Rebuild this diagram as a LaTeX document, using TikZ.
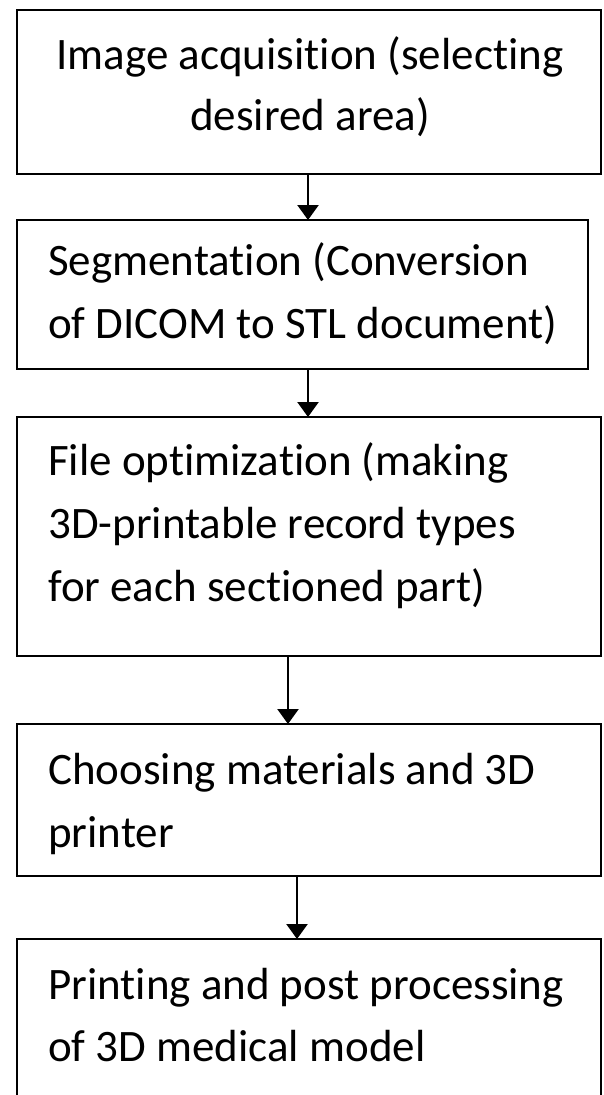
\documentclass[tikz,border=0pt]{standalone}
\usepackage{fontspec}
\setmainfont[Ligatures=NoCommon]{Carlito}
\usetikzlibrary{arrows.meta}
\begin{document}
\begin{tikzpicture}[x=1pt,y=-1pt,
  stepbox/.style={draw=black, line width=2.5pt, rectangle, inner sep=0pt, outer sep=0pt, anchor=north west},
  stepline/.style={inner sep=0pt, font=\fontsize{45}{45}\selectfont},
  flow/.style={line width=2.4pt, -{Triangle[width=21pt,length=15pt]}}]
\useasboundingbox (0,0) rectangle (603,1095);
% process boxes
\node[stepbox, minimum width=584pt, minimum height=164pt] (s1) at (17,10) {};
\node[stepbox, minimum width=571pt, minimum height=149pt] (s2) at (17,220) {};
\node[stepbox, minimum width=584pt, minimum height=239pt] (s3) at (17,417) {};
\node[stepbox, minimum width=584pt, minimum height=152pt] (s4) at (17,724) {};
\node[stepbox, minimum width=584pt, minimum height=200pt] (s5) at (17,939) {};
% box texts
\node[stepline, anchor=base] (t1a) at (310,69) {Image acquisition (selecting};
\node[stepline, anchor=base] (t1b) at (310,130) {desired area)};
\node[stepline, anchor=base west] (t2a) at (48,275) {Segmentation (Conversion};
\node[stepline, anchor=base west] (t2b) at (48,338) {of DICOM to STL document)};
\node[stepline, anchor=base west] (t3a) at (48,475) {File optimization (making};
\node[stepline, anchor=base west] (t3b) at (48,538) {3D-printable record types};
\node[stepline, anchor=base west] (t3c) at (48,601) {for each sectioned part)};
\node[stepline, anchor=base west] (t4a) at (48,784) {Choosing materials and 3D};
\node[stepline, anchor=base west] (t4b) at (48,847) {printer};
\node[stepline, anchor=base west] (t5a) at (48,999) {Printing and post processing};
\node[stepline, anchor=base west] (t5b) at (48,1061) {of 3D medical model};
% connector columns
\coordinate (c1) at (308,0);
\coordinate (c2) at (308,0);
\coordinate (c3) at (288,0);
\coordinate (c4) at (297,0);
\draw[flow] (s1.south -| c1) -- (s2.north -| c1);
\draw[flow] (s2.south -| c2) -- (s3.north -| c2);
\draw[flow] (s3.south -| c3) -- (s4.north -| c3);
\draw[flow] (s4.south -| c4) -- (s5.north -| c4);
\end{tikzpicture}
\end{document}
